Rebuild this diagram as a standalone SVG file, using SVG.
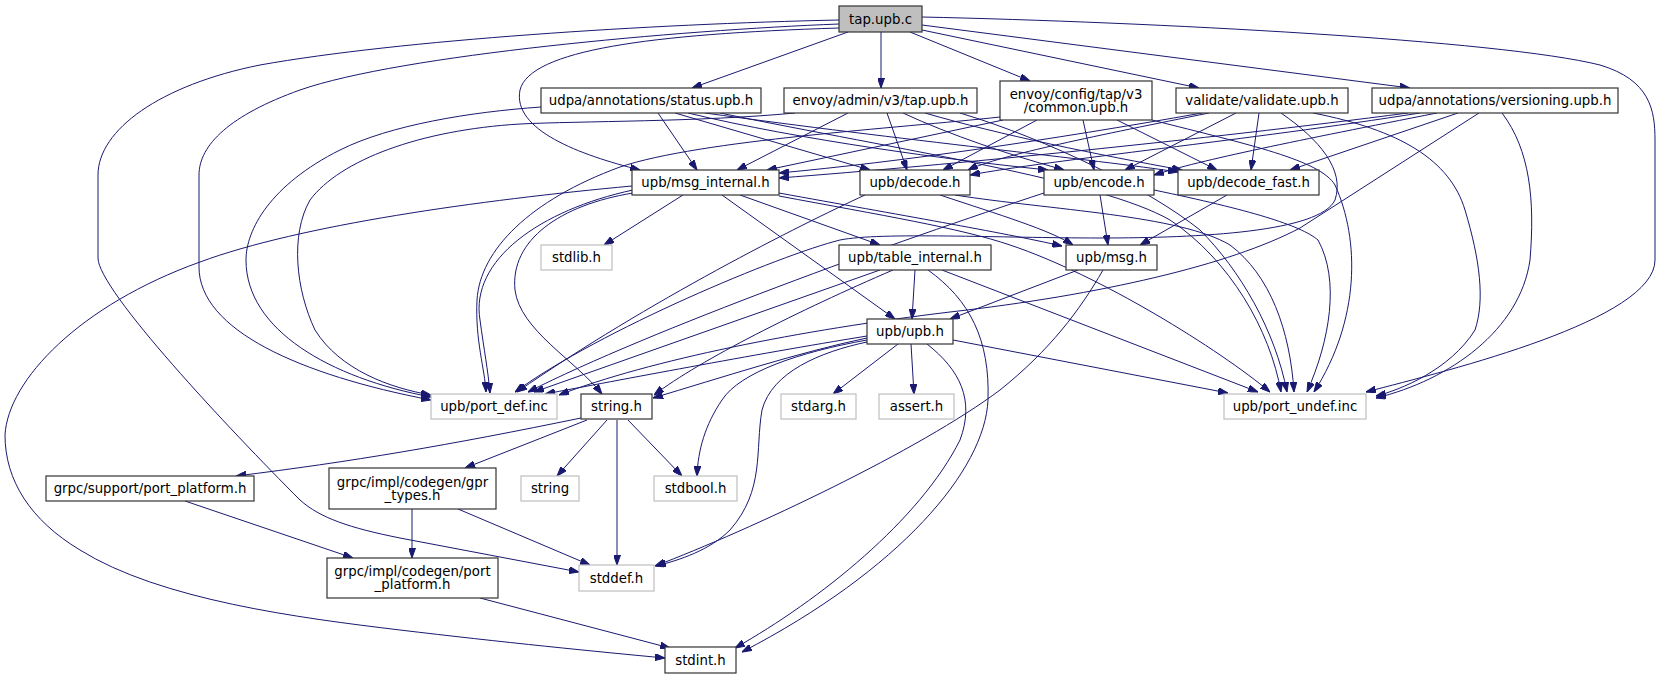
<svg xmlns="http://www.w3.org/2000/svg" width="1664" height="679" viewBox="0 0 1664 679">
<defs>
<marker id="ah" markerUnits="userSpaceOnUse" markerWidth="10" markerHeight="7" refX="10" refY="3.5" orient="auto">
<path d="M0,0 L10,3.5 L0,7 z" fill="#191970" stroke="#191970" stroke-width="1"/>
</marker>
<style>
.n rect{fill:#ffffff;stroke:#333333;stroke-width:1.2}
.g rect{fill:#ffffff;stroke:#bfbfbf;stroke-width:1.2}
.root rect{fill:#bfbfbf;stroke:#333333;stroke-width:1.2}
text{font-family:"DejaVu Sans","Liberation Sans",sans-serif;font-size:13.3px;fill:#000000;text-anchor:middle}
#edges path{fill:none;stroke:#191970;stroke-width:1;marker-end:url(#ah)}
</style>
</defs>
<rect x="0" y="0" width="1664" height="679" fill="#ffffff"/>
<g id="edges">
<path d="M839,20 C650,24 400,40 260,65 C160,85 98,130 98,175 L98,258 C98,290 230,430 300,500 C320,518 350,528 400,538 L579,572"/>
<path d="M839,24 C680,30 400,55 300,90 C230,115 199,145 199,175 L199,267 C199,330 300,375 431,400"/>
<path d="M839,28 C650,34 530,50 520,90 C512,130 580,155 640,170"/>
<path d="M848,32 L692,88"/>
<path d="M881,32 L881,88"/>
<path d="M910,32 L1030,81"/>
<path d="M922,30 L1199,88"/>
<path d="M922,25 L1410,88"/>
<path d="M922,17 C1150,22 1500,40 1600,65 C1650,80 1655,110 1655,140 L1655,260 C1655,320 1450,370 1366,392"/>
<path d="M541,107 C470,112 390,125 340,150 C270,185 246,230 246,260 C246,330 330,378 431,397"/>
<path d="M658,113 L697,170"/>
<path d="M675,113 L870,170"/>
<path d="M688,113 C800,140 950,160 1048,170"/>
<path d="M705,113 C900,140 1100,160 1178,172"/>
<path d="M720,113 C900,150 1100,180 1170,220 C1230,260 1270,330 1281,392"/>
<path d="M848,113 L737,170"/>
<path d="M887,113 L907,170"/>
<path d="M903,113 C950,135 1010,155 1064,170"/>
<path d="M925,113 C1000,135 1100,155 1182,170"/>
<path d="M795,113 C700,122 580,121 520,124 C420,130 340,160 310,200 C290,235 296,290 315,330 C340,370 390,388 431,395"/>
<path d="M960,113 C1050,140 1150,190 1200,230 C1240,270 1275,330 1287,392"/>
<path d="M1003,120 L767,170"/>
<path d="M1037,120 L943,170"/>
<path d="M1083,120 L1094,170"/>
<path d="M1117,120 L1217,170"/>
<path d="M1000,117 C900,128 700,140 620,167 C530,200 480,250 477,300 C475,340 485,370 486,392"/>
<path d="M1152,120 C1250,145 1320,160 1335,185 C1360,240 1360,320 1314,392"/>
<path d="M1202,113 C1050,140 900,162 779,173"/>
<path d="M1209,113 C1100,135 1000,155 968,170"/>
<path d="M1236,113 L1125,170"/>
<path d="M1259,113 L1251,170"/>
<path d="M1281,113 C1320,140 1345,170 1335,200 C1320,232 1200,238 1100,238 C1000,238 880,232 840,240 C780,255 600,330 515,392"/>
<path d="M1313,113 C1400,130 1450,160 1465,210 C1480,260 1485,300 1475,330 C1450,370 1400,390 1376,396"/>
<path d="M1408,113 C1200,140 950,165 779,178"/>
<path d="M1420,113 C1250,140 1050,160 970,175"/>
<path d="M1437,113 C1300,140 1200,160 1154,175"/>
<path d="M1458,113 L1290,170"/>
<path d="M1479,113 L1300,228 C1230,265 1100,295 950,312 C800,330 650,360 559,395"/>
<path d="M1502,113 C1530,150 1535,200 1530,260 C1520,330 1450,380 1376,398"/>
<path d="M632,186 C480,200 300,225 200,262 C80,305 8,380 5,435 C5,480 30,520 80,550 C160,600 300,618 400,630 C500,642 600,652 665,658"/>
<path d="M633,190 C540,210 470,260 480,320 C484,350 488,370 490,393"/>
<path d="M633,193 C560,205 510,240 515,290 C520,330 575,360 602,394"/>
<path d="M683,195 L604,245"/>
<path d="M740,195 L880,245"/>
<path d="M722,195 L895,319"/>
<path d="M779,193 C900,215 1000,232 1062,246"/>
<path d="M779,196 C880,215 960,228 1010,245 C1100,275 1220,350 1270,392"/>
<path d="M940,195 C1000,215 1050,230 1073,245"/>
<path d="M865,195 C800,225 650,300 517,392"/>
<path d="M955,195 C1050,210 1180,215 1230,245 C1270,275 1290,330 1294,392"/>
<path d="M1100,195 L1108,245"/>
<path d="M1044,193 C900,240 650,330 528,392"/>
<path d="M1154,190 C1250,210 1300,225 1318,240 C1340,280 1330,340 1307,392"/>
<path d="M1227,195 L1140,245"/>
<path d="M1078,270 L950,319"/>
<path d="M1103,270 C1080,310 1050,350 1000,390 C920,450 750,530 655,566"/>
<path d="M915,270 L912,319"/>
<path d="M893,270 C800,310 700,360 654,395"/>
<path d="M880,270 L534,392"/>
<path d="M928,270 C970,300 990,340 988,400 C985,470 900,570 742,652"/>
<path d="M942,270 L1258,392"/>
<path d="M867,336 C750,355 620,380 545,394"/>
<path d="M867,338 C800,352 720,378 653,398"/>
<path d="M867,340 C800,352 740,372 722,400 C705,425 698,450 697,476"/>
<path d="M867,342 C820,352 772,372 762,410 C755,450 765,490 730,530 C710,550 680,560 656,566"/>
<path d="M898,344 L833,394"/>
<path d="M911,344 L914,394"/>
<path d="M927,344 C960,370 975,400 960,440 C920,520 820,600 735,648"/>
<path d="M953,340 L1228,393"/>
<path d="M581,418 C450,445 350,462 236,476"/>
<path d="M587,420 L465,468"/>
<path d="M607,420 L557,476"/>
<path d="M617,420 L617,565"/>
<path d="M628,420 L682,476"/>
<path d="M412,509 L412,558"/>
<path d="M458,509 L590,565"/>
<path d="M185,501 L353,558"/>
<path d="M480,598 L670,648"/>
</g>
<g id="node-tap" class="root"><rect x="839" y="6" width="83" height="26"/><text x="880.5" y="23.5">tap.upb.c</text></g>
<g id="node-status" class="n"><rect x="541" y="88" width="220" height="25"/><text x="651" y="105">udpa/annotations/status.upb.h</text></g>
<g id="node-admin" class="n"><rect x="784" y="88" width="193" height="25"/><text x="880.5" y="105">envoy/admin/v3/tap.upb.h</text></g>
<g id="node-config" class="n"><rect x="1000" y="81" width="152" height="39"/><text x="1076" y="98.5">envoy/config/tap/v3</text><text x="1076" y="111.5">/common.upb.h</text></g>
<g id="node-validate" class="n"><rect x="1176" y="88" width="172" height="25"/><text x="1262" y="105">validate/validate.upb.h</text></g>
<g id="node-versioning" class="n"><rect x="1372" y="88" width="246" height="25"/><text x="1495" y="105">udpa/annotations/versioning.upb.h</text></g>
<g id="node-msg-internal" class="n"><rect x="632" y="170" width="147" height="25"/><text x="705.5" y="187">upb/msg_internal.h</text></g>
<g id="node-decode" class="n"><rect x="860" y="170" width="110" height="25"/><text x="915" y="187">upb/decode.h</text></g>
<g id="node-encode" class="n"><rect x="1044" y="170" width="110" height="25"/><text x="1099" y="187">upb/encode.h</text></g>
<g id="node-decode-fast" class="n"><rect x="1178" y="170" width="141" height="25"/><text x="1248.5" y="187">upb/decode_fast.h</text></g>
<g id="node-stdlib" class="g"><rect x="541" y="245" width="71" height="25"/><text x="576.5" y="262">stdlib.h</text></g>
<g id="node-table-internal" class="n"><rect x="839" y="245" width="152" height="25"/><text x="915" y="262">upb/table_internal.h</text></g>
<g id="node-msg" class="n"><rect x="1066" y="245" width="91" height="25"/><text x="1111.5" y="262">upb/msg.h</text></g>
<g id="node-upb" class="n"><rect x="867" y="319" width="86" height="25"/><text x="910" y="336">upb/upb.h</text></g>
<g id="node-port-def" class="g"><rect x="431" y="394" width="126" height="25"/><text x="494" y="411">upb/port_def.inc</text></g>
<g id="node-string-h" class="n"><rect x="581" y="394" width="71" height="25"/><text x="616.5" y="411">string.h</text></g>
<g id="node-stdarg" class="g"><rect x="781" y="394" width="75" height="25"/><text x="818.5" y="411">stdarg.h</text></g>
<g id="node-assert" class="g"><rect x="879" y="394" width="75" height="25"/><text x="916.5" y="411">assert.h</text></g>
<g id="node-port-undef" class="g"><rect x="1224" y="394" width="142" height="25"/><text x="1295" y="411">upb/port_undef.inc</text></g>
<g id="node-grpc-support" class="n"><rect x="46" y="476" width="208" height="25"/><text x="150" y="493">grpc/support/port_platform.h</text></g>
<g id="node-gpr-types" class="n"><rect x="329" y="468" width="167" height="41"/><text x="412.5" y="486.5">grpc/impl/codegen/gpr</text><text x="412.5" y="499.5">_types.h</text></g>
<g id="node-string" class="g"><rect x="521" y="476" width="58" height="25"/><text x="550" y="493">string</text></g>
<g id="node-stdbool" class="g"><rect x="654" y="476" width="83" height="25"/><text x="695.5" y="493">stdbool.h</text></g>
<g id="node-impl-port" class="n"><rect x="327" y="558" width="171" height="40"/><text x="412.5" y="576">grpc/impl/codegen/port</text><text x="412.5" y="589">_platform.h</text></g>
<g id="node-stddef" class="g"><rect x="579" y="565" width="75" height="26"/><text x="616.5" y="582.5">stddef.h</text></g>
<g id="node-stdint" class="n"><rect x="665" y="647" width="71" height="26"/><text x="700.5" y="664.5">stdint.h</text></g>
</svg>
